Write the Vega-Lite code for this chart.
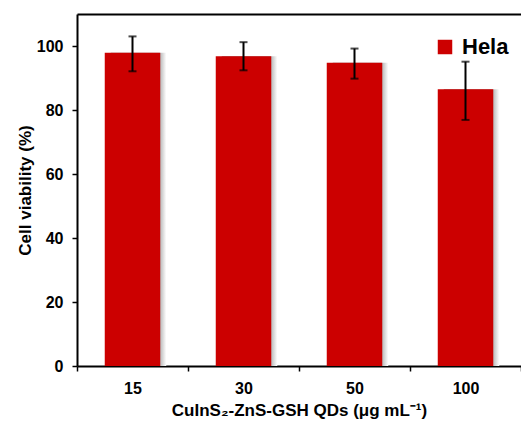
{
  "$schema": "https://vega.github.io/schema/vega-lite/v6.json",
  "width": 444,
  "height": 352,
  "autosize": {"type": "none"},
  "padding": {"left": 77, "top": 14, "right": 0, "bottom": 61},
  "background": "white",
  "config": {"view": {"stroke": null}, "font": "Liberation Sans"},
  "data": {
    "values": [
      {"conc": "15", "mean": 97.9, "lo": 92.1, "hi": 103.0},
      {"conc": "30", "mean": 96.8, "lo": 92.4, "hi": 101.2},
      {"conc": "50", "mean": 94.8, "lo": 89.8, "hi": 99.2},
      {"conc": "100", "mean": 86.5, "lo": 76.9, "hi": 95.1}
    ]
  },
  "layer": [
    {
      "mark": {
        "type": "bar",
        "width": {"band": 0.5},
        "xOffset": 6,
        "fill": {
          "gradient": "linear", "x1": 0, "y1": 0, "x2": 1, "y2": 0,
          "stops": [
            {"offset": 0, "color": "#888888"},
            {"offset": 0.85, "color": "#a0a0a0"},
            {"offset": 1, "color": "#ffffff"}
          ]
        }
      },
      "encoding": {
        "x": {"field": "conc", "type": "nominal", "sort": null, "scale": {"paddingInner": 0, "paddingOuter": 0}, "axis": null},
        "y": {"field": "mean", "type": "quantitative"}
      }
    },
    {
      "mark": {"type": "bar", "width": {"band": 0.5}},
      "encoding": {
        "x": {
          "field": "conc", "type": "nominal", "sort": null,
          "axis": {
            "orient": "bottom", "labelAngle": 0, "tickBand": "extent",
            "tickSize": 5, "tickWidth": 1.5, "tickColor": "black",
            "domainColor": "black", "domainWidth": 2,
            "labelFontSize": 16, "labelFontWeight": "bold", "labelColor": "black", "labelPadding": 9,
            "title": "CuInS₂-ZnS-GSH QDs (μg mL⁻¹)",
            "titleFontSize": 17, "titleFontWeight": "bold", "titleColor": "black", "titlePadding": 6
          }
        },
        "y": {
          "field": "mean", "type": "quantitative",
          "scale": {"domain": [0, 110], "nice": false},
          "axis": {
            "values": [0, 20, 40, 60, 80, 100], "grid": false,
            "tickSize": 5, "tickWidth": 1.5, "tickColor": "black",
            "domainColor": "black", "domainWidth": 2,
            "labelFontSize": 16, "labelFontWeight": "bold", "labelColor": "black", "labelPadding": 9,
            "title": "Cell viability (%)",
            "titleFontSize": 17, "titleFontWeight": "bold", "titleColor": "black", "titlePadding": 2
          }
        },
        "color": {
          "datum": "Hela",
          "scale": {"range": ["#cc0000"]},
          "legend": {
            "orient": "none", "legendX": 357, "legendY": 22, "title": null,
            "symbolType": "square", "symbolSize": 210, "symbolStrokeWidth": 0,
            "labelFontSize": 22, "labelFontWeight": "bold", "labelColor": "black",
            "labelOffset": 6, "padding": 0
          }
        }
      }
    },
    {
      "mark": {"type": "rule", "strokeWidth": 2, "color": "black"},
      "encoding": {
        "x": {
          "field": "conc", "type": "nominal", "sort": null,
          "axis": {"orient": "top", "labels": false, "ticks": false, "title": null, "domainColor": "black", "domainWidth": 2}
        },
        "y": {"field": "lo", "type": "quantitative"},
        "y2": {"field": "hi"}
      }
    },
    {
      "mark": {"type": "tick", "orient": "horizontal", "size": 8, "thickness": 2, "color": "black"},
      "encoding": {
        "x": {"field": "conc", "type": "nominal", "sort": null, "axis": null},
        "y": {"field": "lo", "type": "quantitative"}
      }
    },
    {
      "mark": {"type": "tick", "orient": "horizontal", "size": 8, "thickness": 2, "color": "black"},
      "encoding": {
        "x": {"field": "conc", "type": "nominal", "sort": null, "axis": null},
        "y": {"field": "hi", "type": "quantitative"}
      }
    }
  ],
  "resolve": {"axis": {"x": "independent"}}
}
